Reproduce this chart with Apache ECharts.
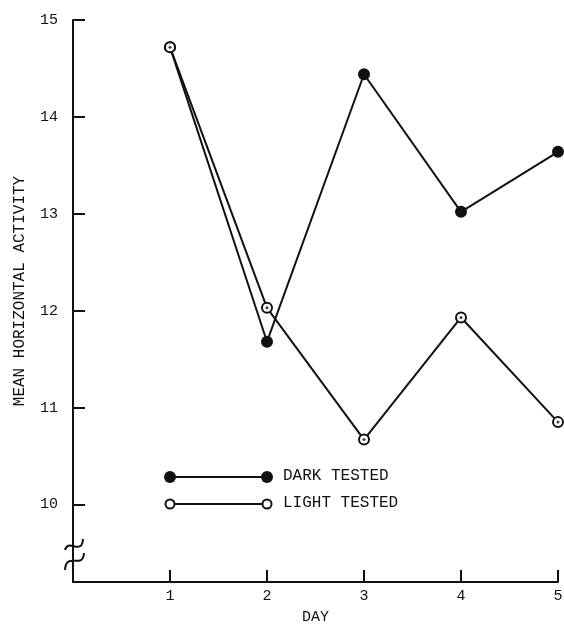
<!DOCTYPE html>
<html>
<head>
<meta charset="utf-8">
<script src="https://cdn.jsdelivr.net/npm/echarts@6/dist/echarts.min.js"></script>
<style>
html, body { margin: 0; padding: 0; background: #fff; }
#main { width: 564px; height: 632px; }
</style>
</head>
<body>
<div id="main"></div>
<script>
// days and means
const days = [1, 2, 3, 4, 5];
const darkTested = [14.72, 11.68, 14.44, 13.02, 13.64];
const lightTested = [14.72, 12.03, 10.67, 11.93, 10.85];
const yTicks = [10, 11, 12, 13, 14, 15];

const font = '"Liberation Mono", "DejaVu Sans Mono", monospace';

const chart = echarts.init(document.getElementById('main'));

const pair = arr => days.map((d, i) => [d, arr[i]]);

const option = {
  backgroundColor: '#fff',
  animation: false,
  grid: { left: 73, right: 6, top: 20, bottom: 50, outerBoundsMode: 'none' },
  xAxis: {
    type: 'value',
    min: 0,
    max: 5,
    interval: 1,
    name: 'DAY',
    nameLocation: 'middle',
    nameGap: 28,
    nameTextStyle: { color: '#111', fontFamily: font, fontSize: 15, verticalAlign: 'top' },
    axisLine: { show: true, lineStyle: { color: '#111', width: 2 } },
    axisTick: { show: true, inside: true, length: 12, lineStyle: { color: '#111', width: 2 } },
    axisLabel: {
      color: '#111', fontFamily: font, fontSize: 15, margin: 7,
      formatter: v => (v === 0 ? '' : v)
    },
    splitLine: { show: false }
  },
  yAxis: {
    type: 'value',
    min: 9.2,
    max: 15,
    name: 'MEAN HORIZONTAL ACTIVITY',
    nameLocation: 'middle',
    nameGap: 45,
    nameRotate: 90,
    nameTextStyle: { color: '#111', fontFamily: font, fontSize: 16, padding: [0, 0, 0, 20] },
    axisLine: { show: true, lineStyle: { color: '#111', width: 2 } },
    axisTick: {
      show: true, inside: true, length: 12,
      customValues: yTicks,
      lineStyle: { color: '#111', width: 2 }
    },
    axisLabel: {
      color: '#111', fontFamily: font, fontSize: 15, margin: 15,
      customValues: yTicks
    },
    splitLine: { show: false }
  },
  series: [
    {
      name: 'DARK TESTED',
      type: 'line',
      data: pair(darkTested),
      symbol: 'circle',
      symbolSize: 12,
      itemStyle: { color: '#111' },
      lineStyle: { color: '#111', width: 2 },
      z: 3
    },
    {
      name: 'LIGHT TESTED',
      type: 'line',
      data: pair(lightTested),
      symbol: 'circle',
      symbolSize: 10,
      itemStyle: { color: '#fff', borderColor: '#111', borderWidth: 2 },
      lineStyle: { color: '#111', width: 2 },
      z: 4
    },
    {
      // centre dot of the light markers
      type: 'scatter',
      data: pair(lightTested),
      symbol: 'circle',
      symbolSize: 3,
      itemStyle: { color: '#111' },
      z: 5,
      silent: true
    }
  ],
  graphic: [
    // legend
    { type: 'line', shape: { x1: 170, y1: 477, x2: 267, y2: 477 }, style: { stroke: '#111', lineWidth: 2 } },
    { type: 'circle', shape: { cx: 170, cy: 477, r: 6 }, style: { fill: '#111' } },
    { type: 'circle', shape: { cx: 267, cy: 477, r: 6 }, style: { fill: '#111' } },
    { type: 'text', left: 283, top: 468, style: { text: 'DARK TESTED', font: '16px ' + font, fill: '#111' } },
    { type: 'line', shape: { x1: 170, y1: 504, x2: 267, y2: 504 }, style: { stroke: '#111', lineWidth: 2 } },
    { type: 'circle', shape: { cx: 170, cy: 504, r: 4.5 }, style: { fill: '#fff', stroke: '#111', lineWidth: 2 } },
    { type: 'circle', shape: { cx: 267, cy: 504, r: 4.5 }, style: { fill: '#fff', stroke: '#111', lineWidth: 2 } },
    { type: 'text', left: 283, top: 495, style: { text: 'LIGHT TESTED', font: '16px ' + font, fill: '#111' } },
    // axis break mark
    {
      type: 'bezierCurve',
      shape: { x1: 83, y1: 539, cpx1: 82, cpy1: 556, x2: 65, y2: 550, cpx2: 68, cpy2: 538 },
      style: { stroke: '#111', lineWidth: 2, fill: null }
    },
    {
      type: 'bezierCurve',
      shape: { x1: 84, y1: 553, cpx1: 83, cpy1: 570, x2: 65, y2: 570, cpx2: 66, cpy2: 551 },
      style: { stroke: '#111', lineWidth: 2, fill: null }
    }
  ]
};

chart.setOption(option);
</script>
</body>
</html>
